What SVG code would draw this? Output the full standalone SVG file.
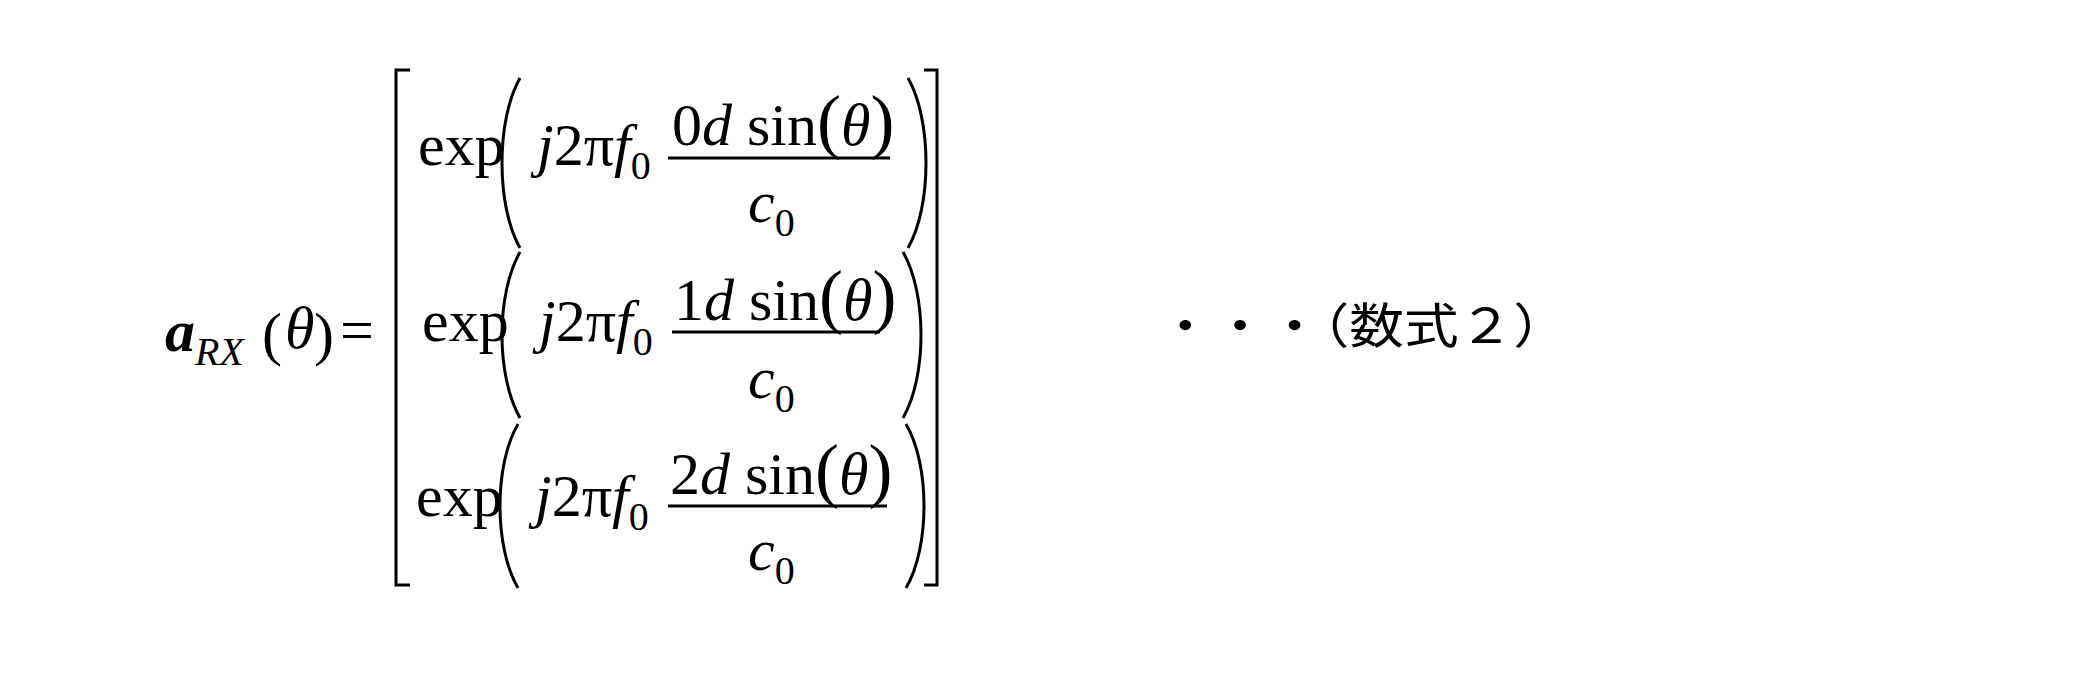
<svg xmlns="http://www.w3.org/2000/svg" width="2099" height="677" viewBox="0 0 2099 677">
<style>
.t{font-family:"Liberation Serif",serif;font-size:60px;fill:#000}
.i{font-style:italic}
.s{font-size:40px}
.ln{stroke:#000;stroke-width:3;fill:none}
.p{stroke:#000;stroke-width:3;fill:none}
</style>
<rect width="2099" height="677" fill="#fff"/>
<g id="lhs">
<text class="t" x="165" y="351"><tspan font-weight="bold" font-style="italic">a</tspan><tspan class="s i" dy="14">RX</tspan></text>
<text class="t" x="262" y="354" font-size="76">(</text>
<text class="t i" x="285" y="348">θ</text>
<text class="t" x="314" y="354" font-size="76">)</text>
<text class="t" x="340" y="350">=</text>
</g>
<g id="matrix">
<path class="ln" d="M410 70 H396 V585 H410 M924 70 H937 V585 H924"/>
<g id="row1">
<text class="t" x="418" y="165">exp</text>
<path class="p" d="M520 78 C496 120 496 206 520 248 M908 78 C932 120 932 206 908 248"/>
<text class="t" x="537" y="165"><tspan class="i">j</tspan>2π<tspan class="i">f</tspan><tspan class="s" dy="14">0</tspan></text>
<text class="t" x="672" y="145">0<tspan class="i">d</tspan> sin<tspan font-size="72">(</tspan><tspan class="i">θ</tspan><tspan font-size="72">)</tspan></text>
<line class="ln" x1="668" y1="158" x2="890" y2="158"/>
<text class="t" x="748" y="222"><tspan class="i">c</tspan><tspan class="s" dy="14">0</tspan></text>
</g>
<g id="row2">
<text class="t" x="422" y="341">exp</text>
<path class="p" d="M520 252 C496 294 496 376 520 418 M903 252 C927 294 927 376 903 418"/>
<text class="t" x="539" y="341"><tspan class="i">j</tspan>2π<tspan class="i">f</tspan><tspan class="s" dy="14">0</tspan></text>
<text class="t" x="674" y="320">1<tspan class="i">d</tspan> sin<tspan font-size="72">(</tspan><tspan class="i">θ</tspan><tspan font-size="72">)</tspan></text>
<line class="ln" x1="672" y1="332" x2="880" y2="332"/>
<text class="t" x="748" y="398"><tspan class="i">c</tspan><tspan class="s" dy="14">0</tspan></text>
</g>
<g id="row3">
<text class="t" x="416" y="516">exp</text>
<path class="p" d="M518 424 C494 465 494 547 518 588 M906 424 C930 465 930 547 906 588"/>
<text class="t" x="535" y="516"><tspan class="i">j</tspan>2π<tspan class="i">f</tspan><tspan class="s" dy="14">0</tspan></text>
<text class="t" x="670" y="494">2<tspan class="i">d</tspan> sin<tspan font-size="72">(</tspan><tspan class="i">θ</tspan><tspan font-size="72">)</tspan></text>
<line class="ln" x1="668" y1="506" x2="887" y2="506"/>
<text class="t" x="748" y="570"><tspan class="i">c</tspan><tspan class="s" dy="14">0</tspan></text>
</g>
</g>
<g id="label">
<text x="1158" y="343" font-family="'Noto Sans CJK JP',sans-serif" font-size="48" textLength="410" lengthAdjust="spacingAndGlyphs">・・・（数式２）</text>
</g>
</svg>
